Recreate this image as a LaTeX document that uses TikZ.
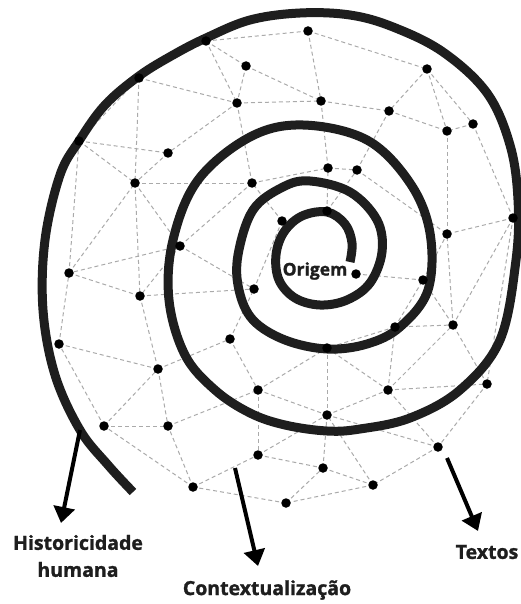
\documentclass[tikz,border=0pt]{standalone}
\usepackage{fontspec}
\usepackage{tikz}
\usetikzlibrary{arrows.meta}
\newfontfamily\labelfont{Open Sans}[BoldFeatures={FakeBold=1.3}]
\definecolor{ink}{RGB}{30,30,30}
\definecolor{webgrey}{RGB}{170,170,170}

\begin{document}
\begin{tikzpicture}[
  x=1pt, y=-1pt,
  coil/.style={draw=ink, line width=9pt, line cap=butt, line join=round},
  web/.style={draw=webgrey, line width=1pt, dash pattern=on 4pt off 3pt},
  knot/.style={circle, fill=black, inner sep=0pt, minimum size=9.5pt},
  pointer/.style={draw=black, line width=4pt, -{Triangle[width=21pt,length=16pt]}},
  tag/.style={font=\labelfont\bfseries\fontsize{19.5}{27}\selectfont, text=ink, align=center}
]
\useasboundingbox (0,0) rectangle (520,604);

% points of the web
\foreach \n/\x/\y in {1/206/41, 2/308/31, 3/427/69, 4/139/78, 5/246/66, 6/237/103,
  7/321/101, 8/389/111, 9/473/124, 10/447/131, 11/79/141, 12/168/153, 13/135/183,
  14/252/183, 15/328/168, 16/357/170, 17/513/218, 18/447/234, 19/180/246, 20/69/273,
  21/140/296, 22/282/221, 23/327/211, 24/356/274, 25/254/289, 26/423/280, 27/453/325,
  28/395/327, 29/230/339, 30/59/344, 31/158/369, 32/327/348, 33/258/390, 34/388/390,
  35/487/384, 36/327/415, 37/104/426, 38/168/426, 39/258/455, 40/438/447, 41/323/468,
  42/193/487, 43/373/485, 44/286/503}
  \coordinate (p\n) at (\x,\y);

% dashed web
\foreach \a/\b in {1/2, 2/3, 3/9, 9/17, 17/35, 35/40, 40/43, 43/44, 44/42, 42/37,
  37/30, 30/20, 20/11, 11/4, 4/1,
  1/5, 1/6, 2/7, 3/8, 3/10, 9/10, 17/18, 17/27, 35/27, 40/34, 43/36, 44/41, 42/38,
  42/39, 37/38, 37/31, 30/31, 20/21, 11/12, 4/13, 4/6,
  5/6, 5/7, 6/7, 7/8, 8/10, 10/18, 6/12, 12/13, 6/14, 13/14, 14/15, 7/15, 15/16,
  8/16, 16/18, 13/19, 14/19, 19/20, 19/21, 13/21, 21/25, 19/25, 21/31, 31/29, 29/25,
  29/33, 31/38, 38/33, 33/39, 39/41, 39/36, 33/36, 33/32, 32/36, 36/34, 36/41, 41/43,
  34/32, 34/28, 34/27, 34/35, 28/27, 28/26, 26/27, 26/18, 27/18, 22/14, 22/23, 23/15,
  23/16, 22/25, 24/26, 28/32, 40/36, 11/13, 20/13}
  \draw[web] (p\a) -- (p\b);

% spiral
\draw[coil] plot[smooth, tension=0.6] coordinates {
  (133,492) (108,465) (80,430) (55,375) (43,310) (45,240) (60,175) (79,141)
  (105,105) (139,76) (173,55) (206,38) (250,20) (300,13) (350,15) (393,27)
  (443,52) (487,93) (510,145) (518,200) (516,260) (500,340) (460,390) (410,418)
  (360,429) (327,431) (285,425) (250,413) (215,390) (185,355) (169,300) (173,240)
  (198,180) (250,137) (303,125) (367,140) (410,183) (430,233) (428,290) (400,327)
  (367,344) (327,349) (285,340) (253,320) (239,290) (238,255) (253,210) (283,187)
  (310,181) (350,192) (377,220) (382,252) (370,283) (347,300) (320,305) (295,298)
  (279,280) (276,255) (284,232) (302,216) (327,212) (345,224) (352,243) (350,262)};

\foreach \n in {1,...,44}
  \node[knot] (k\n) at (p\n) {};

% centre
\node[tag, font=\labelfont\bfseries\fontsize{17.5}{20}\selectfont] (origem) at (315,271) {Origem};

% arrows and labels
\coordinate (hist start) at (80,430);
\coordinate (hist tip) at (61,523);
\coordinate (cont start) at (235,468);
\coordinate (cont tip) at (258,566);
\coordinate (text start) at (447,458);
\coordinate (text tip) at (478,531);
\draw[pointer] (hist start) -- (hist tip);
\draw[pointer] (cont start) -- (cont tip);
\draw[pointer] (text start) -- (text tip);

\node[tag] (hist) at (78,556) {Historicidade\\humana};
\node[tag] (cont) at (267,590) {Contextualização};
\node[tag] (textos) at (487,552) {Textos};
\end{tikzpicture}
\end{document}
